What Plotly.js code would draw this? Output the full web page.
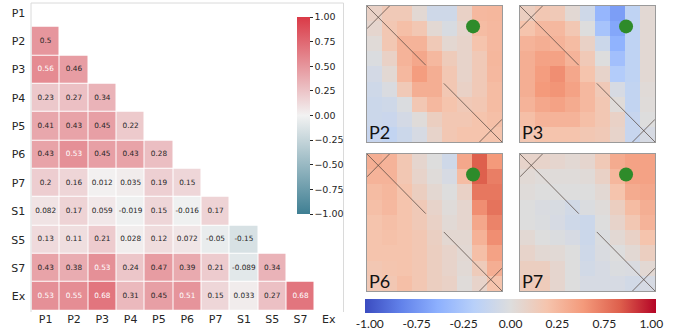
<!DOCTYPE html>
<html>
<head>
<meta charset="utf-8">
<script src="https://cdn.plot.ly/plotly-3.0.1.min.js"></script>
<style>html,body{margin:0;padding:0;background:#fff;}#chart{width:673px;height:330px;}</style>
</head>
<body>
<div id="chart"></div>
<script>
// ---------- data: left correlation matrix (lower triangle) ----------
const labels = ['P1','P2','P3','P4','P5','P6','P7','S1','S5','S7','Ex'];
const rowP1 = [];
const rowP2 = [0.5];
const rowP3 = [0.56, 0.46];
const rowP4 = [0.23, 0.27, 0.34];
const rowP5 = [0.41, 0.43, 0.45, 0.22];
const rowP6 = [0.43, 0.53, 0.45, 0.43, 0.28];
const rowP7 = [0.2, 0.16, 0.012, 0.035, 0.19, 0.15];
const rowS1 = [0.082, 0.17, 0.059, -0.019, 0.15, -0.016, 0.17];
const rowS5 = [0.13, 0.11, 0.21, 0.028, 0.12, 0.072, -0.05, -0.15];
const rowS7 = [0.43, 0.38, 0.53, 0.24, 0.47, 0.39, 0.21, -0.089, 0.34];
const rowEx = [0.53, 0.55, 0.68, 0.31, 0.45, 0.51, 0.15, 0.033, 0.27, 0.68];

// ---------- data: right 9x9 panels ----------
const panelNames = ['P2','P3','P6','P7'];
const gridP2 = [
 [0.12, 0.2, 0.2, 0.05, -0.1, -0.1, 0.12, 0.32, 0.33],
 [0.08, 0.22, 0.28, 0.22, 0.05, -0.04, 0.08, 0.3, 0.32],
 [0.03, 0.22, 0.35, 0.35, 0.2, 0.06, 0.1, 0.25, 0.32],
 [-0.02, 0.12, 0.35, 0.42, 0.32, 0.18, 0.1, 0.2, 0.33],
 [-0.07, 0.05, 0.32, 0.48, 0.38, 0.22, 0.1, 0.2, 0.32],
 [-0.1, -0.03, 0.2, 0.38, 0.38, 0.22, 0.12, 0.2, 0.3],
 [-0.12, -0.1, -0.02, 0.22, 0.32, 0.25, 0.2, 0.22, 0.3],
 [-0.12, -0.13, -0.07, 0.02, 0.15, 0.22, 0.22, 0.25, 0.28],
 [-0.15, -0.18, -0.12, -0.05, 0.1, 0.22, 0.25, 0.25, 0.25]
];
const gridP3 = [
 [0.15, 0.22, 0.2, 0.05, -0.1, -0.45, -0.6, -0.2, 0.05],
 [0.25, 0.32, 0.32, 0.22, 0.0, -0.35, -0.55, -0.2, 0.05],
 [0.35, 0.38, 0.35, 0.3, 0.12, -0.12, -0.48, -0.2, 0.05],
 [0.38, 0.45, 0.45, 0.35, 0.2, 0.0, -0.38, -0.2, 0.05],
 [0.38, 0.48, 0.55, 0.42, 0.25, 0.1, -0.28, -0.2, 0.05],
 [0.38, 0.5, 0.52, 0.45, 0.32, 0.2, -0.05, -0.18, 0.03],
 [0.35, 0.42, 0.45, 0.4, 0.32, 0.22, 0.02, -0.18, 0.02],
 [0.28, 0.35, 0.35, 0.35, 0.28, 0.22, 0.12, -0.15, 0.0],
 [0.22, 0.25, 0.25, 0.25, 0.22, 0.2, 0.1, -0.15, -0.05]
];
const gridP6 = [
 [0.38, 0.35, 0.22, 0.08, 0.0, -0.1, 0.42, 0.75, 0.5],
 [0.35, 0.35, 0.22, 0.1, 0.02, -0.05, 0.3, 0.75, 0.62],
 [0.3, 0.33, 0.25, 0.15, 0.06, 0.0, 0.12, 0.65, 0.65],
 [0.28, 0.32, 0.25, 0.2, 0.1, 0.02, 0.08, 0.55, 0.67],
 [0.25, 0.28, 0.25, 0.2, 0.12, 0.04, 0.08, 0.42, 0.6],
 [0.25, 0.27, 0.25, 0.22, 0.14, 0.06, 0.06, 0.36, 0.55],
 [0.25, 0.25, 0.25, 0.22, 0.15, 0.1, 0.05, 0.28, 0.45],
 [0.22, 0.24, 0.25, 0.22, 0.15, 0.1, 0.04, 0.18, 0.38],
 [0.2, 0.22, 0.28, 0.22, 0.15, 0.12, 0.02, 0.1, 0.25]
];
const gridP7 = [
 [0.1, 0.1, 0.08, 0.05, 0.08, 0.2, 0.4, 0.45, 0.45],
 [0.04, 0.02, 0.02, 0.02, 0.03, 0.12, 0.33, 0.45, 0.45],
 [0.02, 0.0, 0.0, 0.0, 0.0, 0.05, 0.25, 0.4, 0.42],
 [0.0, -0.03, -0.04, -0.08, -0.02, 0.02, 0.15, 0.3, 0.38],
 [0.0, -0.02, -0.05, -0.1, -0.12, 0.0, 0.1, 0.22, 0.35],
 [0.05, 0.0, -0.02, -0.05, -0.12, -0.02, 0.05, 0.12, 0.25],
 [0.1, 0.05, 0.04, 0.0, -0.1, -0.03, 0.0, 0.05, 0.15],
 [0.15, 0.15, 0.08, 0.0, -0.08, -0.05, -0.02, -0.03, 0.05],
 [0.18, 0.18, 0.08, 0.0, -0.05, -0.05, -0.05, -0.08, -0.05]
];
const markerX = [6.57];
const markerY = [0.85];
const leftTickVals = [-1, -0.75, -0.5, -0.25, 0, 0.25, 0.5, 0.75, 1];
const rightTickText = ['-1.00','-0.75','-0.25','0.00','0.25','0.75','1.00'];

// ---------- build ----------
const W = 673, H = 330;
const xd = (a, b) => [a / W, b / W];
const yd = (top, bottom) => [1 - bottom / H, 1 - top / H];

const rows = [rowP1,rowP2,rowP3,rowP4,rowP5,rowP6,rowP7,rowS1,rowS5,rowS7,rowEx];
const idx = labels.map((_, i) => i);
const z = rows.map((r, i) => idx.map(j => (j < i ? r[j] : null)));
const tx = [], ty = [], tt = [], tc = [];
rows.forEach((r, i) => r.forEach((v, j) => {
  tx.push(j); ty.push(i);
  tt.push(String(parseFloat(v.toPrecision(2))));
  tc.push(v > 0.505 ? '#ffffff' : '#262626');
}));

const traces = [];
traces.push({
  type: 'heatmap', x: idx, y: idx, z: z, coloraxis: 'coloraxis',
  xgap: 1, ygap: 1, hoverinfo: 'skip', xaxis: 'x', yaxis: 'y'
});
traces.push({
  type: 'scatter', mode: 'text', x: tx, y: ty, text: tt,
  textfont: {family: 'DejaVu Sans', size: 7.3, color: tc},
  hoverinfo: 'skip', showlegend: false, xaxis: 'x', yaxis: 'y'
});

const grids = [gridP2, gridP3, gridP6, gridP7];
const domains = [
  {x: xd(367, 502), y: yd(6, 142)},
  {x: xd(520, 655), y: yd(6, 142)},
  {x: xd(367, 502), y: yd(154, 291)},
  {x: xd(520, 655), y: yd(154, 291)}
];
const layout = {
  width: W, height: H,
  margin: {l: 0, r: 0, t: 0, b: 0},
  paper_bgcolor: '#ffffff', plot_bgcolor: '#ffffff',
  showlegend: false,
  xaxis: {
    domain: xd(31.5, 343), range: [-0.5, 10.5], tickvals: idx, ticktext: labels,
    showgrid: false, zeroline: false, showline: false,
    ticks: '', 
    tickfont: {family: 'DejaVu Sans', size: 11, color: '#262626'}, anchor: 'y'
  },
  yaxis: {
    domain: yd(3, 310.5), range: [10.5, -0.35], tickvals: idx, ticktext: labels,
    showgrid: false, zeroline: false, showline: false,
    ticks: 'outside', ticklen: 3, tickcolor: 'rgba(0,0,0,0)',
    tickfont: {family: 'DejaVu Sans', size: 11, color: '#262626'}, anchor: 'x'
  },
  coloraxis: {
    cmin: -1, cmax: 1,
    colorscale: [[0, '#3f7f93'], [0.5, '#f2f2f2'], [1, '#da3a47']],
    colorbar: {
      x: 297 / W, xanchor: 'left', xpad: 0,
      y: 1 - 17 / H, yanchor: 'top', ypad: 0,
      len: 197, lenmode: 'pixels', thickness: 13, thicknessmode: 'pixels',
      outlinewidth: 0, ticks: 'outside', ticklen: 3, tickwidth: 1, tickcolor: '#262626',
      tickvals: leftTickVals, tickformat: '.2f',
      tickfont: {family: 'DejaVu Sans', size: 9.5, color: '#262626'}
    }
  },
  coloraxis2: {
    cmin: -1, cmax: 1,
    colorscale: [
      [0, '#3b4cc0'], [0.125, '#6282ea'], [0.25, '#8db0fe'], [0.375, '#b8d0f9'],
      [0.5, '#dddddd'], [0.625, '#f5c4ad'], [0.75, '#f49a7b'], [0.875, '#de604d'], [1, '#b40426']
    ],
    colorbar: {
      orientation: 'h',
      x: 510.5 / W, xanchor: 'center', xpad: 0,
      y: 1 - 299 / H, yanchor: 'top', ypad: 0,
      len: 291, lenmode: 'pixels', thickness: 14, thicknessmode: 'pixels',
      outlinewidth: 0, ticks: '',
      tickvals: [-0.9675, -0.645, -0.3225, 0, 0.3225, 0.645, 0.9675],
      ticktext: rightTickText,
      tickfont: {family: 'Lato', size: 12, color: '#222222'}
    }
  },
  shapes: [
    {type: 'line', xref: 'paper', yref: 'paper', x0: 31 / W, x1: 343.5 / W, y0: 1 - 3 / H, y1: 1 - 3 / H,
     line: {color: '#dadada', width: 1}},
    {type: 'line', xref: 'paper', yref: 'paper', x0: 31 / W, x1: 31 / W, y0: 1 - 3 / H, y1: 1 - 312 / H,
     line: {color: '#dadada', width: 1}},
    {type: 'line', xref: 'paper', yref: 'paper', x0: 343.5 / W, x1: 343.5 / W, y0: 1 - 3 / H, y1: 1 - 312 / H,
     line: {color: '#dadada', width: 1}}
  ],
  annotations: []
};

const lineStyle = {color: 'rgba(85,72,66,0.75)', width: 1};
grids.forEach((g, k) => {
  const xa = 'x' + (k + 2), ya = 'y' + (k + 2);
  traces.push({
    type: 'heatmap', z: g, coloraxis: 'coloraxis2', hoverinfo: 'skip',
    xaxis: xa, yaxis: ya
  });
  traces.push({
    type: 'scatter', mode: 'markers', x: markerX, y: markerY,
    marker: {size: 14, color: '#2e8b2a'}, hoverinfo: 'skip', showlegend: false,
    xaxis: xa, yaxis: ya
  });
  const axBase = {
    showgrid: false, zeroline: false, showticklabels: false, ticks: '',
    showline: true, mirror: true, linecolor: '#9a9a9a', linewidth: 1
  };
  layout['xaxis' + (k + 2)] = Object.assign({}, axBase, {domain: domains[k].x, range: [-0.5, 8.5], anchor: ya});
  layout['yaxis' + (k + 2)] = Object.assign({}, axBase, {domain: domains[k].y, range: [8.5, -0.5], anchor: xa});
  const segs = [
    [-0.5, -0.5, 3.42, 3.42],
    [4.62, 4.62, 8.5, 8.5],
    [-0.5, 1.0, 1.0, -0.5],
    [7.0, 8.5, 8.5, 7.0]
  ];
  segs.forEach(s => layout.shapes.push({
    type: 'line', xref: xa, yref: ya, x0: s[0], y0: s[1], x1: s[2], y1: s[3],
    line: lineStyle, layer: 'above'
  }));
  layout.annotations.push({
    xref: xa + ' domain', yref: ya + ' domain', x: 0.005, y: -0.015,
    xanchor: 'left', yanchor: 'bottom', showarrow: false, borderpad: 0,
    text: panelNames[k], font: {family: 'Lato', size: 18, color: '#111111'}
  });
});

Plotly.newPlot('chart', traces, layout, {displayModeBar: false, staticPlot: true});
</script>
</body>
</html>
